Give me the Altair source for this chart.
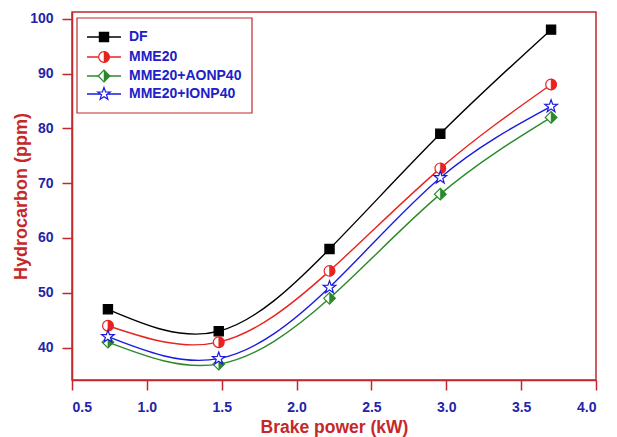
import altair as alt
import pandas as pd

# ---- data ----
brake_power = [0.74, 1.48, 2.22, 2.96, 3.70]
series_names = ["DF", "MME20", "MME20+AONP40", "MME20+IONP40"]
df_vals = [47, 43, 58, 79, 98]
mme20_vals = [44, 41, 54, 72.7, 88]
aonp_vals = [41, 37, 49, 68, 82]
ionp_vals = [42, 38, 51, 71, 84]
x_ticks = [0.5, 1.0, 1.5, 2.0, 2.5, 3.0, 3.5, 4.0]
y_ticks = [40, 50, 60, 70, 80, 90, 100]

colors = {"DF": "#000000", "MME20": "#e8231f", "MME20+AONP40": "#2a8a2a", "MME20+IONP40": "#1a1ae0"}

rows = []
for name, vals in zip(series_names, [df_vals, mme20_vals, aonp_vals, ionp_vals]):
    for x, y in zip(brake_power, vals):
        rows.append({"series": name, "bp": x, "hc": y})
data = pd.DataFrame(rows)

# ---- layout ----
W, H = 524, 368
XDOM = [0.5, 4.0]
YDOM = [34.1, 101.22]

def px_to_x(px):
    return XDOM[0] + (px - 72) * (XDOM[1] - XDOM[0]) / W

def py_to_y(py):
    return YDOM[1] - (py - 12) * (YDOM[1] - YDOM[0]) / H

xs = alt.Scale(domain=XDOM, nice=False, zero=False)
ys = alt.Scale(domain=YDOM, nice=False, zero=False)

HALF_CIRCLE = "M0,-1A1,1,0,0,1,0,1Z"
DIAMOND = "M-1,0L0,-1L1,0L0,1Z"
HALF_DIAMOND = "M0,-1L1,0L0,1Z"
STAR = ("M0,-1L0.235,-0.324L0.951,-0.309L0.38,0.124L0.588,0.809L0,0.4"
        "L-0.588,0.809L-0.38,0.124L-0.951,-0.309L-0.235,-0.324Z")

X = alt.X("bp:Q", scale=xs,
          axis=alt.Axis(values=x_ticks, format=".1f", title="Brake power (kW)"))
Y = alt.Y("hc:Q", scale=ys,
          axis=alt.Axis(values=y_ticks, format="d", title="Hydrocarbon (ppm)"))

base = alt.Chart(data)
color_scale = alt.Scale(domain=series_names, range=[colors[s] for s in series_names])

lines = base.mark_line(interpolate="natural", strokeWidth=1.4).encode(
    x=X, y=Y,
    color=alt.Color("series:N", scale=color_scale, legend=None),
    detail="series:N",
)

def pts(name, shape, size, fill, stroke, sw=1.2):
    return base.transform_filter(alt.datum.series == name).mark_point(
        shape=shape, size=size, filled=True, fill=fill, stroke=stroke,
        strokeWidth=sw, opacity=1).encode(x="bp:Q", y="hc:Q")

markers = [
    pts("DF", "square", 85, "#000000", "#000000"),
    pts("MME20", "circle", 115, "#ffffff", colors["MME20"]),
    pts("MME20", HALF_CIRCLE, 115, colors["MME20"], colors["MME20"], 0.5),
    pts("MME20+AONP40", DIAMOND, 135, "#ffffff", colors["MME20+AONP40"]),
    pts("MME20+AONP40", HALF_DIAMOND, 135, colors["MME20+AONP40"], colors["MME20+AONP40"], 0.5),
    pts("MME20+IONP40", STAR, 175, "#ffffff", colors["MME20+IONP40"]),
]

# ---- legend (drawn in data coordinates) ----
row_py = [37, 57, 76, 94]
leg = pd.DataFrame({
    "series": series_names,
    "x1": [px_to_x(87)] * 4,
    "x2": [px_to_x(121)] * 4,
    "xm": [px_to_x(104)] * 4,
    "xt": [px_to_x(129)] * 4,
    "y": [py_to_y(p) for p in row_py],
})
box = pd.DataFrame({"bx1": [px_to_x(77)], "bx2": [px_to_x(252)],
                    "by1": [py_to_y(18)], "by2": [py_to_y(113)]})

legend_box = alt.Chart(box).mark_rect(fill="white", stroke="#c0282d", strokeWidth=1.2).encode(
    x=alt.X("bx1:Q", scale=xs), x2="bx2:Q", y=alt.Y("by1:Q", scale=ys), y2="by2:Q")

lb = alt.Chart(leg)
legend_lines = lb.mark_rule(strokeWidth=1.4).encode(
    x=alt.X("x1:Q", scale=xs), x2="x2:Q", y=alt.Y("y:Q", scale=ys),
    color=alt.Color("series:N", scale=color_scale, legend=None))

def lpts(name, shape, size, fill, stroke, sw=1.2):
    return lb.transform_filter(alt.datum.series == name).mark_point(
        shape=shape, size=size, filled=True, fill=fill, stroke=stroke,
        strokeWidth=sw, opacity=1).encode(x=alt.X("xm:Q", scale=xs), y=alt.Y("y:Q", scale=ys))

legend_markers = [
    lpts("DF", "square", 85, "#000000", "#000000"),
    lpts("MME20", "circle", 115, "#ffffff", colors["MME20"]),
    lpts("MME20", HALF_CIRCLE, 115, colors["MME20"], colors["MME20"], 0.5),
    lpts("MME20+AONP40", DIAMOND, 135, "#ffffff", colors["MME20+AONP40"]),
    lpts("MME20+AONP40", HALF_DIAMOND, 135, colors["MME20+AONP40"], colors["MME20+AONP40"], 0.5),
    lpts("MME20+IONP40", STAR, 175, "#ffffff", colors["MME20+IONP40"]),
]

legend_text = lb.mark_text(align="left", baseline="middle", font="Liberation Sans",
                           fontWeight="bold", fontSize=14, color="#2020c8").encode(
    x=alt.X("xt:Q", scale=xs), y=alt.Y("y:Q", scale=ys), text="series:N")

chart = alt.layer(lines, *markers, legend_box, legend_lines, *legend_markers, legend_text).properties(
    width=W, height=H,
    autosize=alt.AutoSizeParams(type="none"),
    padding={"left": 64, "top": 4, "right": 12, "bottom": 60},
).configure_view(
    stroke="#c0282d", strokeWidth=1.5
).configure_axis(
    grid=False,
    domainColor="#c0282d", domainWidth=1.5,
    tickColor="#c0282d", tickWidth=1.5, tickSize=10,
    labelColor="#2424a8", labelFont="Liberation Sans", labelFontWeight="bold",
    labelFontSize=14,
    titleColor="#c62828", titleFont="Liberation Sans", titleFontWeight="bold",
).configure_axisY(
    titlePadding=-1, labelPadding=9, titleFontSize=18
).configure_axisX(
    titlePadding=4, labelPadding=10, titleFontSize=17.5
)

chart.save("out.html", embed_options={"renderer": "svg", "actions": False})
